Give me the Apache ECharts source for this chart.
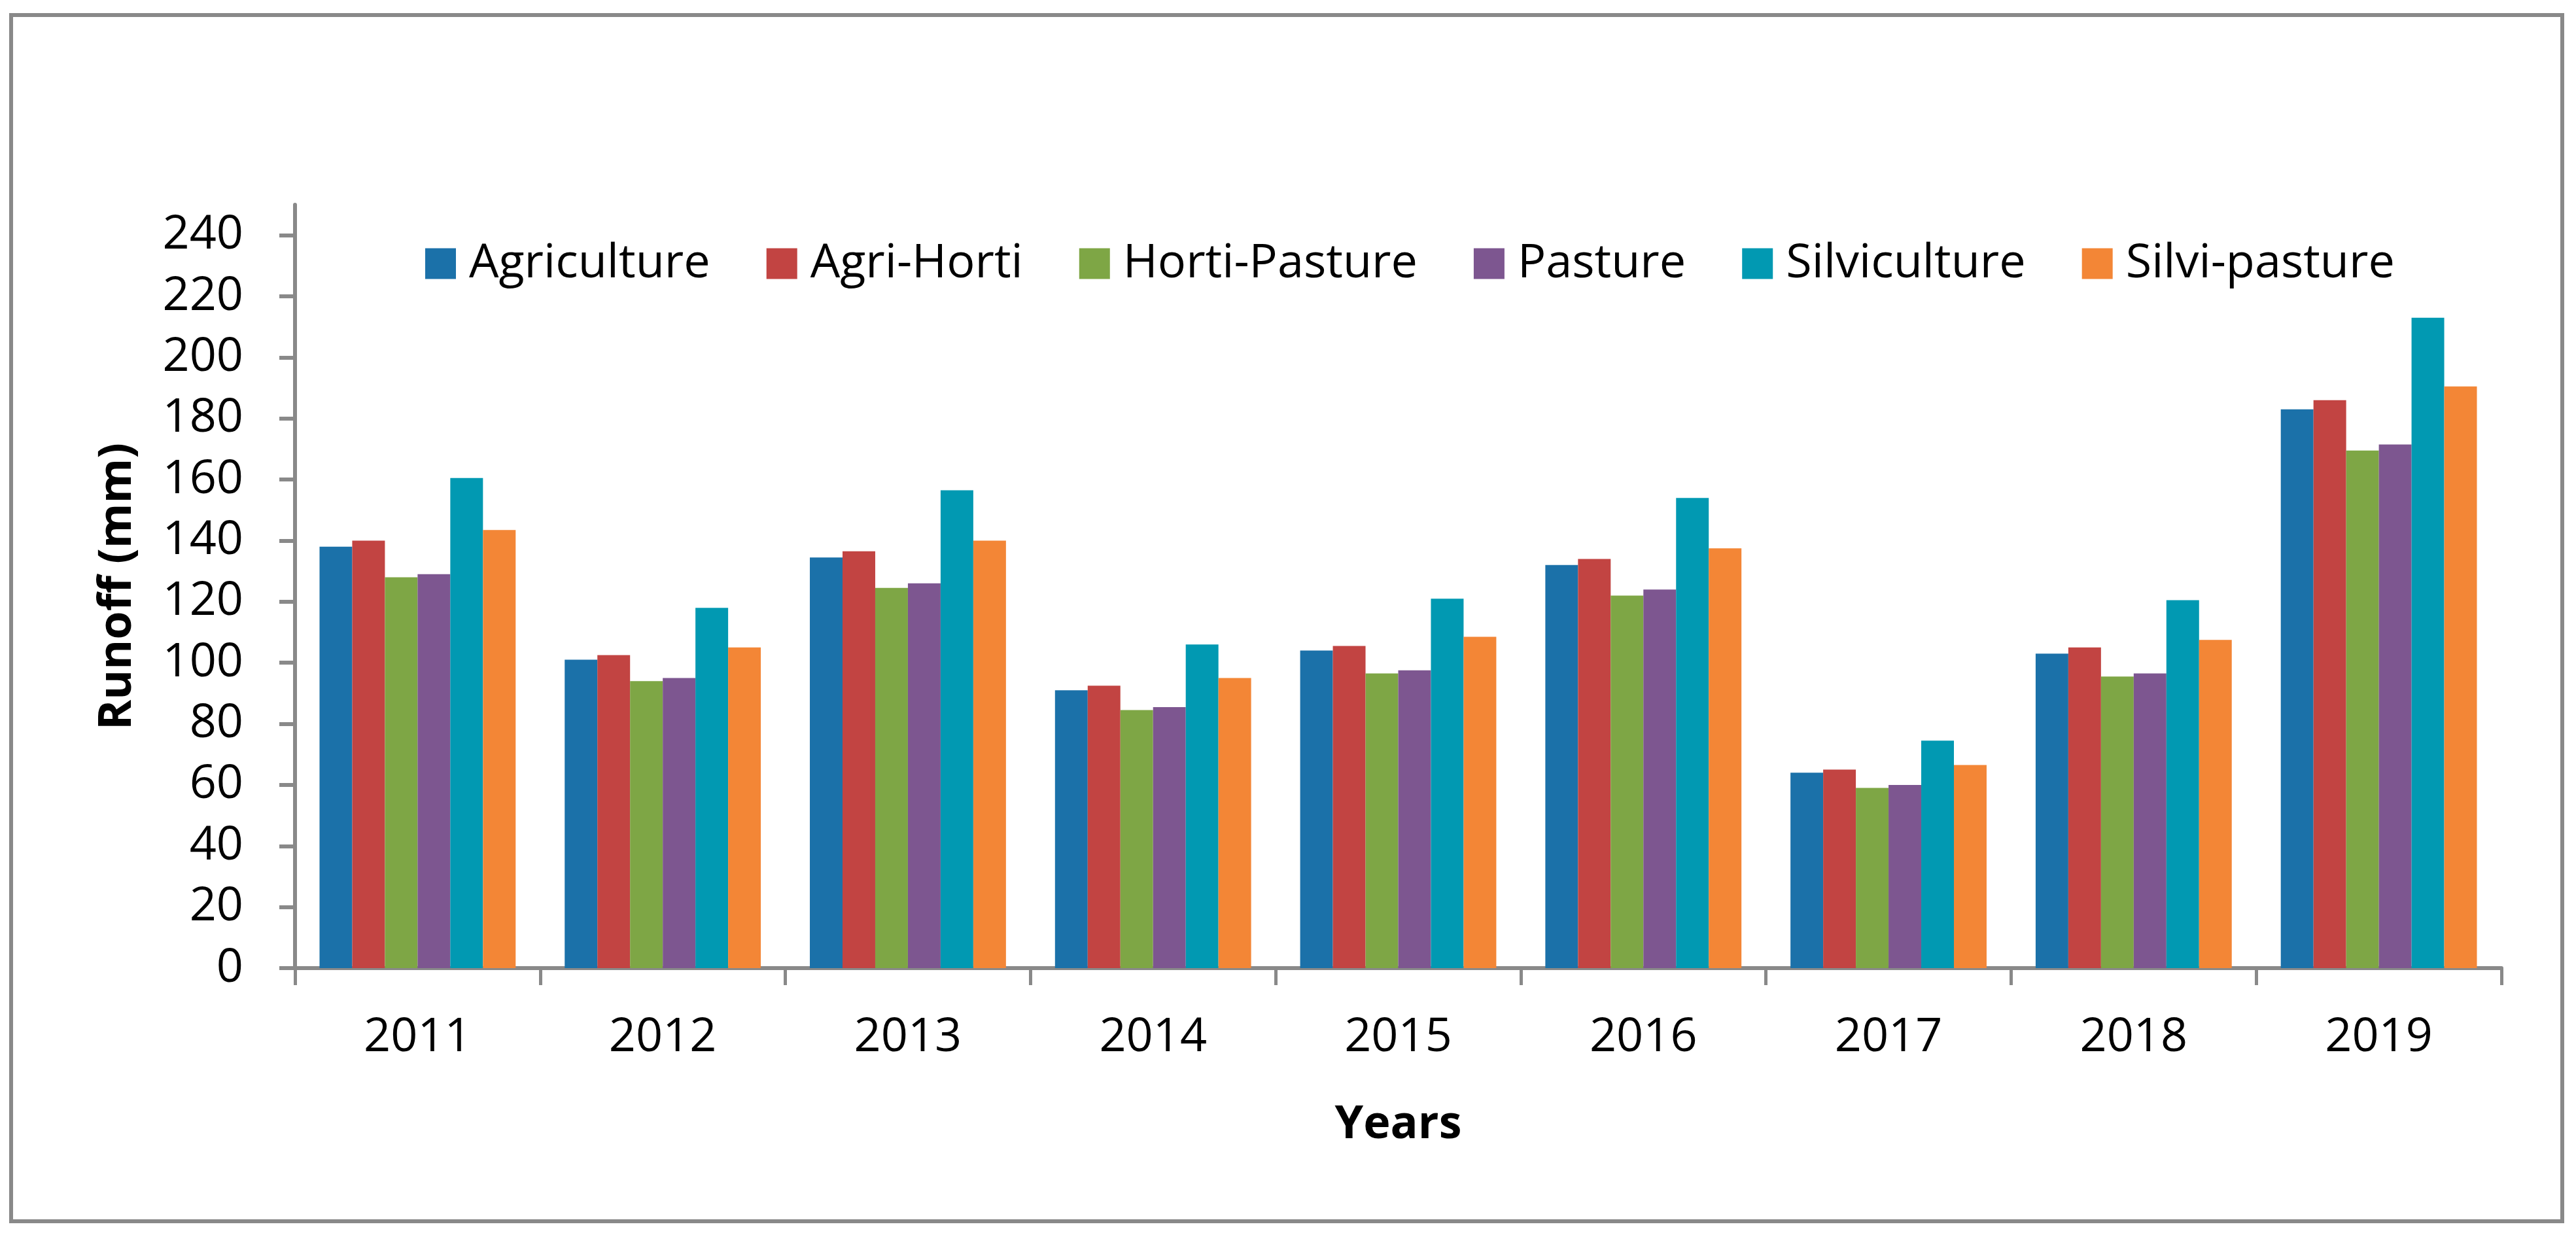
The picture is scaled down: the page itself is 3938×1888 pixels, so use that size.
<!DOCTYPE html>
<html>
<head>
<meta charset="utf-8">
<script src="https://cdn.jsdelivr.net/npm/echarts@6/dist/echarts.min.js"></script>
<style>
html,body{margin:0;padding:0;background:#fff;}
#chart{width:3938px;height:1888px;}
</style>
</head>
<body>
<div id="chart"></div>
<script>
const categories = ['2011','2012','2013','2014','2015','2016','2017','2018','2019'];
const seriesNames = ['Agriculture','Agri-Horti','Horti-Pasture','Pasture','Silviculture','Silvi-pasture'];
const agriculture  = [138, 101, 134.5, 91, 104, 132, 64, 103, 183];
const agriHorti    = [140, 102.5, 136.5, 92.5, 105.5, 134, 65, 105, 186];
const hortiPasture = [128, 94, 124.5, 84.5, 96.5, 122, 59, 95.5, 169.5];
const pasture      = [129, 95, 126, 85.5, 97.5, 124, 60, 96.5, 171.5];
const silviculture = [160.5, 118, 156.5, 106, 121, 154, 74.5, 120.5, 213];
const silviPasture = [143.5, 105, 140, 95, 108.5, 137.5, 66.5, 107.5, 190.5];
const yTicks = [0,20,40,60,80,100,120,140,160,180,200,220,240];
const colors = ['#1b71a9','#c24442','#7ea645','#7d5690','#0199b2','#f38636'];
const seriesData = [agriculture, agriHorti, hortiPasture, pasture, silviculture, silviPasture];

const axisGray = '#898989';
const FONT = '"Open Sans", "Noto Sans", sans-serif';

const chart = echarts.init(document.getElementById('chart'));
chart.setOption({
  backgroundColor: '#ffffff',
  animation: false,
  textStyle: { fontFamily: FONT },
  graphic: [{
    type: 'rect',
    shape: { x: 17, y: 23, width: 3900, height: 1844 },
    style: { fill: 'none', stroke: axisGray, lineWidth: 6 },
    silent: true
  }],
  legend: {
    left: 645,
    top: 362,
    itemWidth: 47,
    itemHeight: 47,
    itemGap: 86,
    icon: 'rect',
    textStyle: { fontFamily: FONT, fontSize: 72, color: '#000', padding: [0, 0, 0, 15] },
    data: seriesNames
  },
  grid: { left: 451, right: 114, top: 313, bottom: 408, containLabel: false },
  xAxis: {
    type: 'category',
    data: categories,
    name: 'Years',
    nameLocation: 'middle',
    nameGap: 205,
    nameTextStyle: { fontFamily: FONT, fontSize: 70, fontWeight: 'bold', color: '#000' },
    axisLine: { lineStyle: { color: axisGray, width: 6 } },
    axisTick: { show: true, alignWithLabel: false, length: 26, lineStyle: { color: axisGray, width: 5 } },
    axisLabel: { fontFamily: FONT, fontSize: 72, color: '#000', margin: 70 },
    splitLine: { show: false }
  },
  yAxis: {
    type: 'value',
    min: 0,
    max: 250,
    interval: 20,
    name: 'Runoff (mm)',
    nameLocation: 'middle',
    nameGap: 236,
    nameRotate: 90,
    nameTextStyle: { fontFamily: FONT, fontSize: 70, fontWeight: 'bold', color: '#000' },
    axisLine: { show: true, lineStyle: { color: axisGray, width: 6 } },
    axisTick: { show: true, length: 24, customValues: yTicks, lineStyle: { color: axisGray, width: 6 } },
    axisLabel: { fontFamily: FONT, fontSize: 72, color: '#000', margin: 79, customValues: yTicks },
    splitLine: { show: false }
  },
  series: seriesNames.map((n, i) => ({
    name: n,
    type: 'bar',
    data: seriesData[i],
    barGap: '0%',
    barCategoryGap: '20%',
    itemStyle: { color: colors[i] }
  }))
});
</script>
</body>
</html>
